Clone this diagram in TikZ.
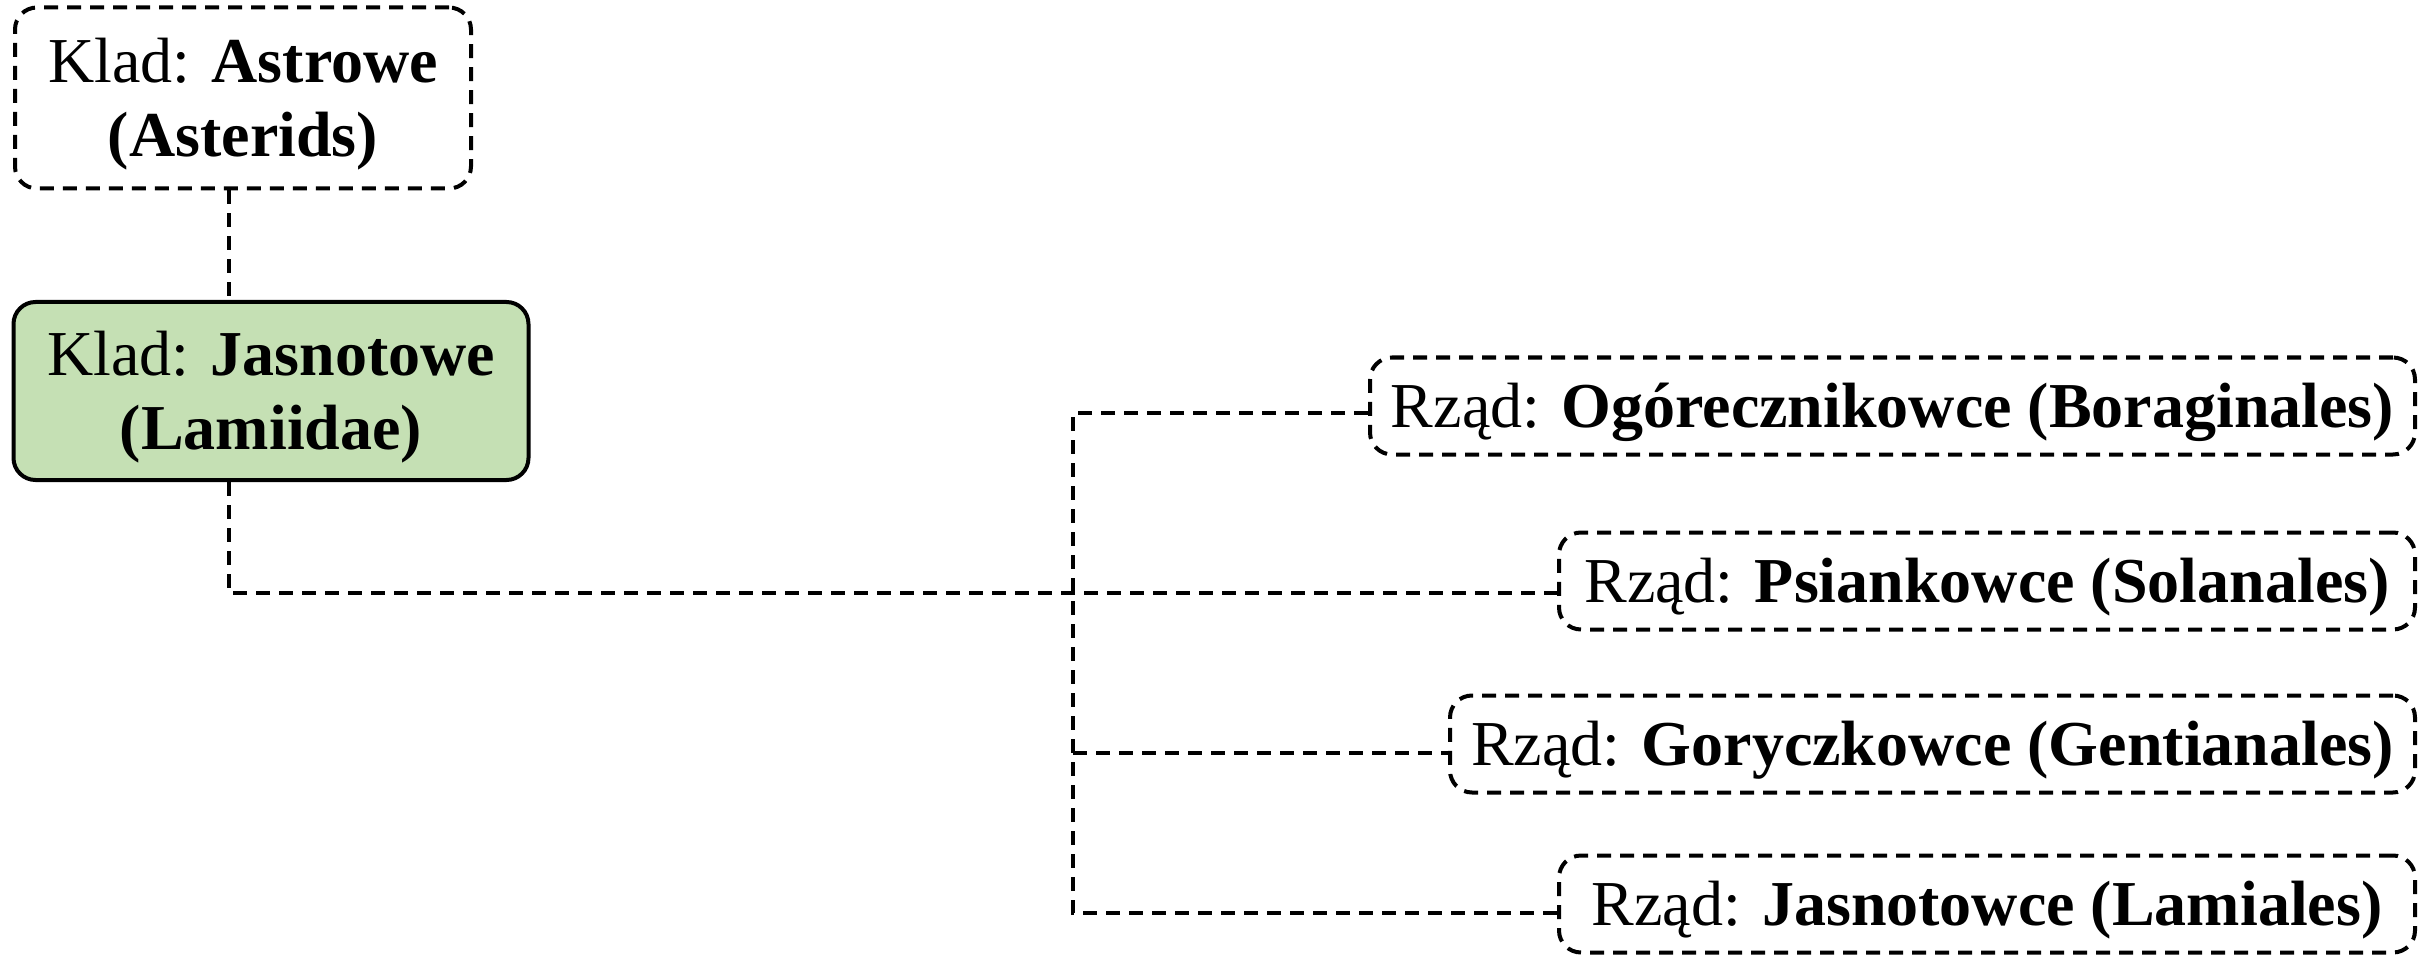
\documentclass[tikz,border=0pt]{standalone}
\usepackage{fontspec}
\setmainfont{Liberation Serif}
\definecolor{boxgreen}{HTML}{C5E0B4}
\newcommand{\lowtext}[1]{\raisebox{0pt}[\dimexpr\height+14pt\relax]{\begin{tabular}{@{}c@{}}#1\end{tabular}}}
\tikzset{
  x=1pt, y=-1pt,
  conn/.style={line width=4pt, dash pattern=on 14pt off 9pt},
  dbox/.style={draw, line width=4pt, dash pattern=on 14pt off 9pt, rounded corners=22pt,
    font=\fontsize{64}{74}\selectfont, inner sep=0pt},
  gbox/.style={draw, line width=4pt, fill=boxgreen, rounded corners=22pt,
    font=\fontsize{64}{74}\selectfont, inner sep=0pt},
  rbox/.style={draw, line width=4pt, dash pattern=on 14pt off 9pt, rounded corners=22pt,
    font=\fontsize{64}{74}\selectfont, inner sep=0pt, minimum height=97pt, anchor=east},
}
\begin{document}
\begin{tikzpicture}
\useasboundingbox (0,0) rectangle (2427,957);
\node[dbox, minimum width=456pt, minimum height=181pt] (ast) at (243,98) {\lowtext{Klad: \textbf{Astrowe}\\\textbf{(Asterids)}}};
\node[gbox, minimum width=515pt, minimum height=178pt] (jas) at (271,391) {\lowtext{Klad: \textbf{Jasnotowe}\\\textbf{(Lamiidae)}}};
\node[rbox, minimum width=1045pt] (bor) at (2417,406) {\lowtext{Rząd: \textbf{Ogórecznikowce (Boraginales)}}};
\node[rbox, minimum width=856pt] (sol) at (2417,581) {\lowtext{Rząd: \textbf{Psiankowce (Solanales)}}};
\node[rbox, minimum width=965pt] (gen) at (2417,744) {\lowtext{Rząd: \textbf{Goryczkowce (Gentianales)}}};
\node[rbox, minimum width=856pt] (lam) at (2417,904) {\lowtext{Rząd: \textbf{Jasnotowce (Lamiales)}}};
\coordinate (trunk) at (229,0);
\coordinate (bus) at (1073,0);
\coordinate (borc) at ([yshift=-7pt]bor.west);
\coordinate (solc) at ([yshift=-12pt]sol.west);
\coordinate (genc) at ([yshift=-9pt]gen.west);
\coordinate (lamc) at ([yshift=-9pt]lam.west);
\draw[conn] (ast.south -| trunk) -- (jas.north -| trunk);
\draw[conn] (jas.south -| trunk) -- (trunk |- solc) -- (solc);
\draw[conn] (borc) -- (bus |- borc) -- (bus |- lamc) -- (lamc);
\draw[conn] (bus |- genc) -- (genc);
\end{tikzpicture}
\end{document}
